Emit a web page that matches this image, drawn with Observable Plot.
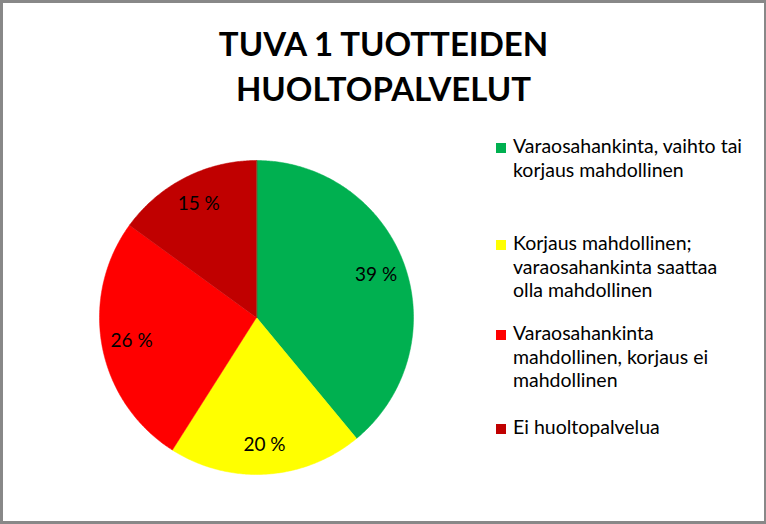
<!DOCTYPE html>
<html>
<head>
<meta charset="utf-8">
<script src="https://cdn.jsdelivr.net/npm/d3@7"></script>
<script src="https://cdn.jsdelivr.net/npm/@observablehq/plot@0.6"></script>
<style>
  html, body { margin: 0; padding: 0; background: #fff; }
  #frame { position: relative; width: 766px; height: 524px; box-sizing: border-box;
           border-style: solid; border-color: #888; border-width: 3px 2px 3px 3px; background: #fff;
           font-family: Lato, "Open Sans", sans-serif; overflow: hidden; }
  #title { position: absolute; left: 0; width: 761px; top: 18px; text-align: center;
           font-weight: bold; font-size: 33px; line-height: 45px; color: #000; }
  #pie { position: absolute; left: 85px; top: 146px; line-height: 0; }
  #legend { position: absolute; left: 493px; top: 131px; }
  .item { position: absolute; left: 0; width: 270px; }
  .sw { position: absolute; left: 0; width: 10px; height: 10px; top: 9px; }
  .lt { position: absolute; left: 17px; font-size: 19.5px; line-height: 23.5px; color: #000; white-space: nowrap; }
</style>
</head>
<body>
<div id="frame">
  <div id="title">TUVA 1 TUOTTEIDEN<br>HUOLTOPALVELUT</div>
  <div id="pie"></div>
  <div id="legend"></div>
</div>
<script>
const categories = [
  "Varaosahankinta, vaihto tai korjaus mahdollinen",
  "Korjaus mahdollinen; varaosahankinta saattaa olla mahdollinen",
  "Varaosahankinta mahdollinen, korjaus ei mahdollinen",
  "Ei huoltopalvelua"
];
const legendLines = [
  ["Varaosahankinta, vaihto tai", "korjaus mahdollinen"],
  ["Korjaus mahdollinen;", "varaosahankinta saattaa", "olla mahdollinen"],
  ["Varaosahankinta", "mahdollinen, korjaus ei", "mahdollinen"],
  ["Ei huoltopalvelua"]
];
const values = [39, 20, 26, 15];
const colors = ["#00B050", "#FFFF00", "#FF0000", "#C00000"];
const labels = ["39 %", "20 %", "26 %", "15 %"];

const data = categories.map((c, i) => ({category: c, value: values[i], label: labels[i]}));
const arcs = d3.pie().sort(null).value(d => d.value).startAngle(0).endAngle(2 * Math.PI)(data);

// Slice outlines (polar -> x/y in unit circle)
const outline = [];
for (const a of arcs) {
  const cat = a.data.category;
  outline.push({category: cat, x: 0, y: 0});
  const n = Math.max(2, Math.ceil((a.endAngle - a.startAngle) / 0.01));
  for (let k = 0; k <= n; k++) {
    const t = a.startAngle + (a.endAngle - a.startAngle) * k / n;
    outline.push({category: cat, x: Math.sin(t), y: Math.cos(t)});
  }
}
const labelR = 0.81;
const labelPts = arcs.map(a => {
  const m = (a.startAngle + a.endAngle) / 2;
  return {label: a.data.label, x: labelR * Math.sin(m), y: labelR * Math.cos(m)};
});

const size = 336;
const ext = size / 2 / 157;
const chart = Plot.plot({
  width: size, height: size,
  margin: 0,
  x: {domain: [-ext, ext], axis: null},
  y: {domain: [-ext, ext], axis: null},
  color: {domain: categories, range: colors},
  style: {background: "transparent", overflow: "visible"},
  marks: [
    Plot.line(outline, {x: "x", y: "y", z: "category", fill: "category", stroke: "category", strokeWidth: 0.5, curve: "linear-closed"}),
    Plot.text(labelPts, {x: "x", y: "y", text: "label", fontSize: 19, fill: "#000", fontFamily: "Lato, 'Open Sans', sans-serif"})
  ]
});
document.getElementById("pie").appendChild(chart);

const legendTops = [0, 97, 187, 281];
const legend = document.getElementById("legend");
legendLines.forEach((lines, i) => {
  const item = document.createElement("div");
  item.className = "item";
  item.style.top = legendTops[i] + "px";
  const sw = document.createElement("div");
  sw.className = "sw";
  sw.style.background = colors[i];
  const lt = document.createElement("div");
  lt.className = "lt";
  lt.innerHTML = lines.join("<br>");
  item.appendChild(sw);
  item.appendChild(lt);
  legend.appendChild(item);
});
</script>
</body>
</html>
